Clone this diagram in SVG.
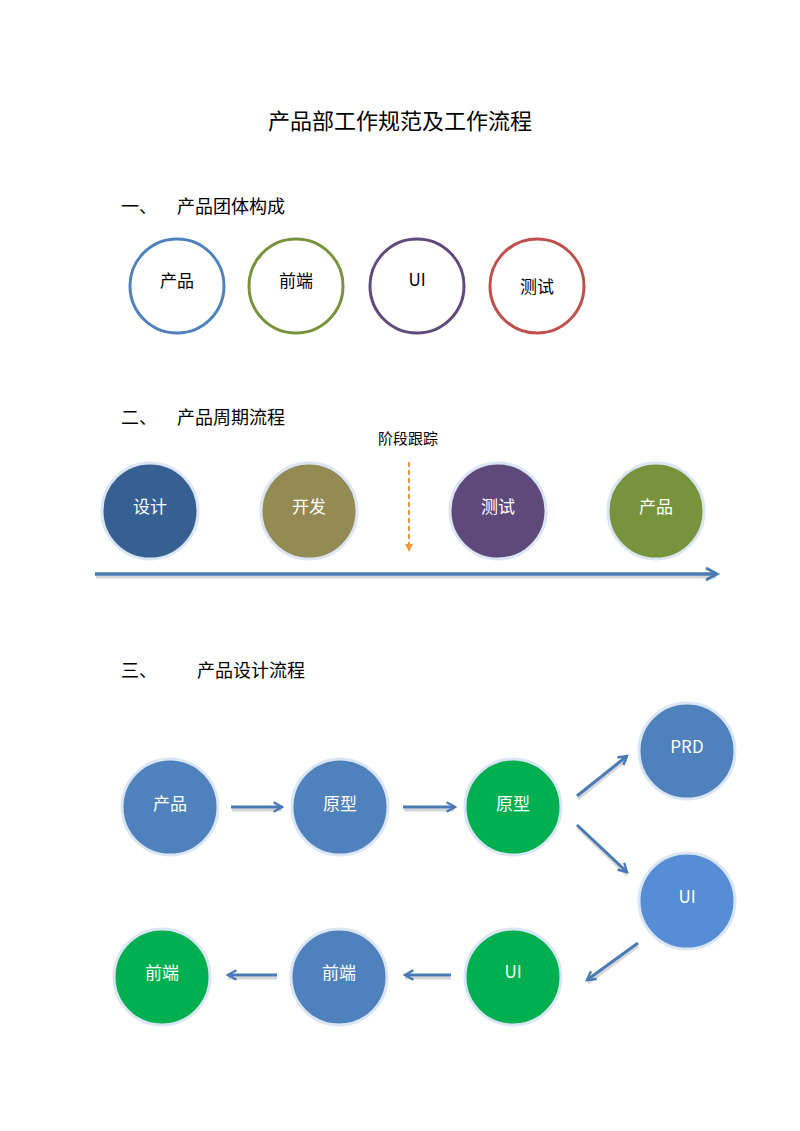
<svg xmlns="http://www.w3.org/2000/svg" width="800" height="1131" viewBox="0 0 800 1131">
<style>
text{font-family:"Noto Sans CJK SC","Noto Sans",sans-serif;}
.h{font-size:18px;fill:#000;}
.t{font-size:17px;fill:#000;text-anchor:middle;dominant-baseline:central;}
.w{font-size:17px;fill:#fff;text-anchor:middle;dominant-baseline:central;}
.ring{stroke:#dbe6f4;stroke-width:3;}
.ol{fill:#fff;stroke-width:3;}
.conn{stroke:#4a7ab5;stroke-width:3;fill:none;marker-end:url(#ah);}
.sh{stroke:#b0b0b0;stroke-width:3;fill:none;opacity:0.5;}
</style>
<defs>
<marker id="ah" viewBox="0 0 10 10" refX="8" refY="5" markerWidth="4" markerHeight="4" orient="auto" markerUnits="strokeWidth">
<path d="M1,1 L8,5 L1,9" fill="none" stroke="#4a7ab5" stroke-width="2"/>
</marker>
</defs>
<rect width="800" height="1131" fill="#fff"/>
<text x="400" y="119" font-size="22" text-anchor="middle" dominant-baseline="central" fill="#000">产品部工作规范及工作流程</text>

<g id="sec1">
<text class="h" x="121" y="205" dominant-baseline="central">一、</text>
<text class="h" x="177" y="205" dominant-baseline="central">产品团体构成</text>
</g>
<g id="t-product"><circle class="ol" cx="177" cy="286" r="47" stroke="#4f81bd"/><text class="t" x="177" y="279">产品</text></g>
<g id="t-frontend"><circle class="ol" cx="296" cy="286" r="47" stroke="#77933c"/><text class="t" x="296" y="279">前端</text></g>
<g id="t-ui"><circle class="ol" cx="417" cy="286" r="47" stroke="#604a7b"/><text class="t" x="417" y="278">UI</text></g>
<g id="t-test"><circle class="ol" cx="537" cy="286" r="47" stroke="#c0504d"/><text class="t" x="537" y="285">测试</text></g>

<g id="sec2">
<text class="h" x="121" y="416" dominant-baseline="central">二、</text>
<text class="h" x="177" y="416" dominant-baseline="central">产品周期流程</text>
</g>
<g id="track">
<text x="408" y="437" font-size="15" text-anchor="middle" dominant-baseline="central" fill="#000">阶段跟踪</text>
<line x1="409" y1="462" x2="409" y2="545" stroke="#f79646" stroke-width="2" stroke-dasharray="5,3"/>
<path d="M405,544 L409,552 L413,544 Z" fill="#f79646"/>
</g>
<g id="c-design"><circle class="ring" cx="150" cy="511" r="48" fill="#376092"/><text class="w" x="150" y="505">设计</text></g>
<g id="c-dev"><circle class="ring" cx="309" cy="511" r="48" fill="#948a54"/><text class="w" x="309" y="505">开发</text></g>
<g id="c-test"><circle class="ring" cx="498" cy="511" r="48" fill="#5f497a"/><text class="w" x="498" y="505">测试</text></g>
<g id="c-product"><circle class="ring" cx="656" cy="511" r="48" fill="#77933c"/><text class="w" x="656" y="505">产品</text></g>

<g id="sec3">
<text class="h" x="121" y="669" dominant-baseline="central">三、</text>
<text class="h" x="197" y="669" dominant-baseline="central">产品设计流程</text>
</g>
<g id="d-product"><circle class="ring" cx="170" cy="807" r="48" fill="#4f81bd"/><text class="w" x="170" y="802">产品</text></g>
<g id="d-proto1"><circle class="ring" cx="340" cy="807" r="48" fill="#4f81bd"/><text class="w" x="340" y="802">原型</text></g>
<g id="d-proto2"><circle class="ring" cx="513" cy="807" r="48" fill="#00b050"/><text class="w" x="513" y="802">原型</text></g>
<g id="d-prd"><circle class="ring" cx="687" cy="751" r="48" fill="#4f81bd"/><text class="w" x="687" y="745">PRD</text></g>
<g id="d-ui1"><circle class="ring" cx="687" cy="901" r="48" fill="#558ed5"/><text class="w" x="687" y="895">UI</text></g>
<g id="d-ui2"><circle class="ring" cx="513" cy="977" r="48" fill="#00b050"/><text class="w" x="513" y="970">UI</text></g>
<g id="d-fe1"><circle class="ring" cx="339" cy="977" r="48" fill="#4f81bd"/><text class="w" x="339" y="971">前端</text></g>
<g id="d-fe2"><circle class="ring" cx="162" cy="977" r="48" fill="#00b050"/><text class="w" x="162" y="971">前端</text></g>

<g id="connectors">
<line class="sh" x1="96" y1="577" x2="716" y2="577"/>
<line x1="95" y1="574" x2="716" y2="574" stroke="#4a7ab5" stroke-width="3.5"/>
<path d="M706,568 L717,574 L706,580" fill="none" stroke="#4a7ab5" stroke-width="3"/>
<line class="sh" x1="232" y1="810" x2="282" y2="810"/>
<line class="conn" x1="231" y1="807" x2="282" y2="807"/>
<line class="sh" x1="404" y1="810" x2="454" y2="810"/>
<line class="conn" x1="403" y1="807" x2="455" y2="807"/>
<line class="sh" x1="578" y1="799" x2="627" y2="759"/>
<line class="conn" x1="577" y1="796" x2="627" y2="756"/>
<line class="sh" x1="578" y1="828" x2="627" y2="875"/>
<line class="conn" x1="577" y1="825" x2="627" y2="872"/>
<line class="sh" x1="638" y1="946" x2="588" y2="983"/>
<line class="conn" x1="638" y1="943" x2="587" y2="980"/>
<line class="sh" x1="451" y1="978" x2="405" y2="978"/>
<line class="conn" x1="451" y1="975" x2="405" y2="975"/>
<line class="sh" x1="277" y1="978" x2="228" y2="978"/>
<line class="conn" x1="277" y1="975" x2="228" y2="975"/>
</g>
</svg>
